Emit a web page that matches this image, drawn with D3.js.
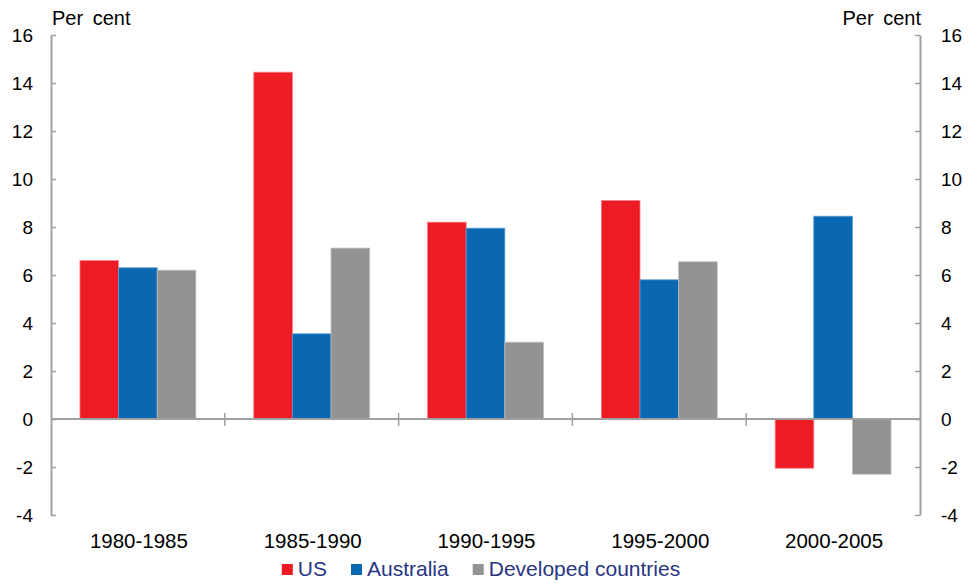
<!DOCTYPE html>
<html>
<head>
<meta charset="utf-8">
<script src="https://cdn.jsdelivr.net/npm/d3@7/dist/d3.min.js"></script>
<style>
  html, body { margin: 0; padding: 0; background: #fff; }
  svg { display: block; font-family: Arial, "Liberation Sans", sans-serif; }
</style>
</head>
<body>
<svg id="chart" width="971" height="583"></svg>
<script>
// Period categories along the x axis
const periods = ["1980-1985", "1985-1990", "1990-1995", "1995-2000", "2000-2005"];
// Series names (legend order)
const seriesNames = ["US", "Australia", "Developed countries"];
// Values, per cent, one per period
const usValues = [6.6, 14.45, 8.2, 9.1, -2.05];
const australiaValues = [6.3, 3.55, 7.95, 5.8, 8.45];
const developedValues = [6.2, 7.12, 3.2, 6.55, -2.3];
// Y axis tick values
const yTicks = [-4, -2, 0, 2, 4, 6, 8, 10, 12, 14, 16];

const seriesValues = [usValues, australiaValues, developedValues];
const fills = ["#ED1C24", "#0A67B2", "#939393"];
const strokes = ["#F47C81", "#5B9BD3", "#BDBDBD"];
const axisColor = "#A0A0A0";

const svg = d3.select("#chart");
const plotLeft = 51, plotRight = 920, plotTop = 35, plotBottom = 515;

const y = d3.scaleLinear().domain([-4, 16]).range([plotBottom, plotTop]);
const x = d3.scaleBand().domain(periods).range([plotLeft, plotRight]).paddingInner(0).paddingOuter(0);
const x1 = d3.scaleBand().domain(seriesNames).range([0, x.bandwidth()])
  .paddingInner(0).paddingOuter(0.75);

// Bars
const rows = [];
periods.forEach((p, i) => {
  seriesNames.forEach((s, j) => rows.push({ period: p, series: s, j, value: seriesValues[j][i] }));
});
svg.append("g").selectAll("rect").data(rows).join("rect")
  .attr("x", d => x(d.period) + x1(d.series))
  .attr("y", d => y(Math.max(0, d.value)))
  .attr("width", x1.bandwidth())
  .attr("height", d => Math.abs(y(d.value) - y(0)))
  .attr("fill", d => fills[d.j])
  .attr("stroke", d => strokes[d.j])
  .attr("stroke-width", 0.8);

// Plain hyphen for negative tick labels
const fmt = d => String(d);

// Left axis
const leftAxis = svg.append("g").attr("transform", `translate(${plotLeft},0)`)
  .call(d3.axisLeft(y).tickValues(yTicks).tickSizeInner(-5).tickSizeOuter(0).tickPadding(18).tickFormat(fmt));
// Right axis
const rightAxis = svg.append("g").attr("transform", `translate(${plotRight},0)`)
  .call(d3.axisRight(y).tickValues(yTicks).tickSizeInner(-5).tickSizeOuter(0).tickPadding(21).tickFormat(fmt));
[leftAxis, rightAxis].forEach(g => {
  g.select(".domain").attr("stroke", axisColor).attr("stroke-width", 2);
  g.selectAll(".tick line").attr("stroke", axisColor).attr("stroke-width", 1.5);
  g.selectAll(".tick text").attr("fill", "#000").style("font-size", "19px")
    .attr("font-family", "Arial, 'Liberation Sans', sans-serif");
});

// Zero line with category separators
svg.append("line")
  .attr("x1", plotLeft).attr("x2", plotRight).attr("y1", y(0)).attr("y2", y(0))
  .attr("stroke", axisColor).attr("stroke-width", 2);
svg.append("g").selectAll("line").data(periods.slice(1)).join("line")
  .attr("x1", d => x(d)).attr("x2", d => x(d))
  .attr("y1", y(0) - 6).attr("y2", y(0) + 7)
  .attr("stroke", axisColor).attr("stroke-width", 1.5);

// Category labels
svg.append("g").selectAll("text").data(periods).join("text")
  .attr("x", d => x(d) + x.bandwidth() / 2 + 1)
  .attr("y", 548)
  .attr("text-anchor", "middle")
  .style("font-size", "20.5px")
  .attr("fill", "#000")
  .text(d => d);

// Unit labels
svg.append("text").attr("x", 52).attr("y", 25).style("font-size", "20px")
  .attr("word-spacing", "4px").text("Per cent");
svg.append("text").attr("x", 921).attr("y", 25).attr("text-anchor", "end").style("font-size", "20px")
  .attr("word-spacing", "4px").text("Per cent");

// Legend
const legend = svg.append("g");
let cx = 0;
seriesNames.forEach((name, j) => {
  const g = legend.append("g");
  g.append("rect").attr("x", 0).attr("y", -12).attr("width", 11).attr("height", 11).attr("fill", fills[j]);
  const t = g.append("text").attr("x", 16).attr("y", 0).style("font-size", "21px")
    .attr("fill", "#283583").text(name);
  const w = 16 + t.node().getComputedTextLength();
  g.attr("transform", `translate(${cx},0)`);
  cx += w + 24;
});
const legendWidth = cx - 24;
legend.attr("transform", `translate(${481 - legendWidth / 2},576)`);
</script>
</body>
</html>
